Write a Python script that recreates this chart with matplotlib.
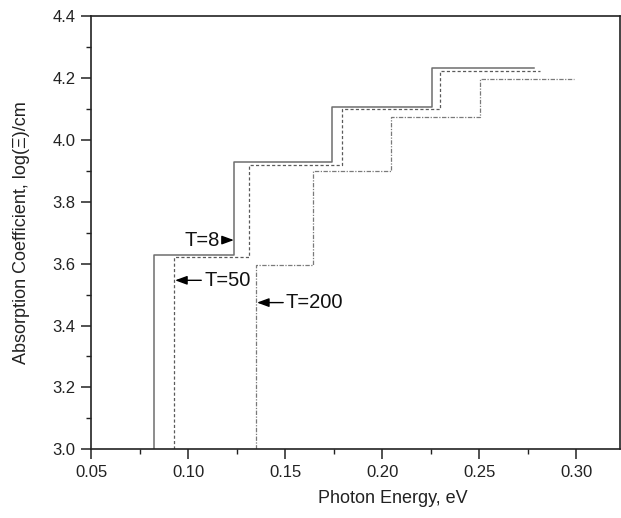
import matplotlib
matplotlib.use("Agg")
import matplotlib.pyplot as plt
from matplotlib.ticker import MultipleLocator

plt.rcParams['font.family'] = ['Liberation Sans', 'DejaVu Sans']

# Data: onset energy, step edges (eV) and absorption levels (log)
series_names = ["T=8", "T=50", "T=200"]
onsets = [0.0825, 0.0929, 0.135]
step_edges = [
    [0.1239, 0.1741, 0.2256],
    [0.1314, 0.1792, 0.2299],
    [0.1643, 0.2045, 0.2505],
]
end_energy = [0.278, 0.2814, 0.2986]
levels = [
    [3.627, 3.929, 4.107, 4.231],
    [3.620, 3.920, 4.098, 4.222],
    [3.597, 3.899, 4.074, 4.198],
]
baseline = 3.0

# Labels with arrows: text position, arrow head, arrow tail
label_text_pos = [(0.1075, 3.676), (0.1206, 3.546), (0.1648, 3.474)]
arrow_heads = [(0.1236, 3.676), (0.0933, 3.546), (0.1355, 3.474)]
arrow_tails = [(0.1180, 3.676), (0.1068, 3.546), (0.1490, 3.474)]

styles = [
    dict(color="#6e6e6e", linestyle="-", linewidth=1.1),
    dict(color="#5a5a5a", linestyle=(0, (2.5, 1.8)), linewidth=0.9),
    dict(color="#7a7a7a", linestyle=(0, (3.5, 1.2, 1.0, 1.2)), linewidth=0.9),
]

fig = plt.figure(figsize=(6.21, 5.18), dpi=100)
ax = fig.add_axes([91 / 621, 1 - 449.3 / 518, (620 - 91) / 621, (449.3 - 16) / 518])

for i in range(len(series_names)):
    xs = [onsets[i], onsets[i]]
    ys = [baseline, levels[i][0]]
    for j, e in enumerate(step_edges[i]):
        xs += [e, e]
        ys += [levels[i][j], levels[i][j + 1]]
    xs.append(end_energy[i])
    ys.append(levels[i][-1])
    ax.plot(xs, ys, **styles[i])

for name, tp, hd, tl in zip(series_names, label_text_pos, arrow_heads, arrow_tails):
    ax.text(tp[0], tp[1], name, fontsize=14.5, ha="center", va="center", color="#111111")
    ax.annotate("", xy=hd, xytext=tl,
                arrowprops=dict(arrowstyle="-|>,head_length=0.6,head_width=0.22",
                                color="black", lw=1.0, shrinkA=0, shrinkB=0,
                                mutation_scale=12))

ax.set_xlim(0.05, 0.3225)
ax.set_ylim(3.0, 4.4)
ax.xaxis.set_major_locator(MultipleLocator(0.05))
ax.xaxis.set_minor_locator(MultipleLocator(0.025))
ax.yaxis.set_major_locator(MultipleLocator(0.2))
ax.yaxis.set_minor_locator(MultipleLocator(0.1))
ax.xaxis.set_major_formatter(plt.FormatStrFormatter("%.2f"))
ax.yaxis.set_major_formatter(plt.FormatStrFormatter("%.1f"))

ax.tick_params(which="major", direction="out", length=7, width=1.1, labelsize=12,
               colors="#222222", pad=4)
ax.tick_params(which="minor", direction="out", length=3.5, width=1.0, colors="#222222")
ax.tick_params(top=False, right=False, which="both")
for sp in ax.spines.values():
    sp.set_linewidth(1.2)
    sp.set_color("#222222")

ax.set_xlabel("Photon Energy, eV", fontsize=13, color="#222222", labelpad=10)
ax.set_ylabel("Absorption Coefficient, log(Ξ)/cm", fontsize=13, color="#222222", labelpad=16)
ax.xaxis.set_label_coords(0.571, -0.095)

fig.savefig("out.png", dpi=100)
